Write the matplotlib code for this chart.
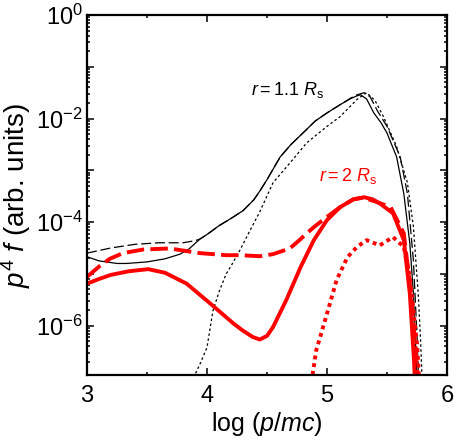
import matplotlib
matplotlib.use("Agg")
import matplotlib.pyplot as plt
import numpy as np
from matplotlib.ticker import LogLocator, FixedLocator, MultipleLocator, FuncFormatter, NullFormatter

plt.rcParams["font.family"] = ["Liberation Sans", "DejaVu Sans"]
plt.rcParams["mathtext.fontset"] = "custom"
plt.rcParams["mathtext.rm"] = "Liberation Sans"
plt.rcParams["mathtext.it"] = "Liberation Sans:italic"

# log10(p/mc) and log10(p^4 f)
x_black_solid = [3.0, 3.1, 3.25, 3.33, 3.5, 3.65, 3.775, 3.85, 3.94, 4.0, 4.1, 4.2, 4.3, 4.39, 4.44,
                 4.5, 4.61, 4.7, 4.83, 4.9, 5.0, 5.11, 5.2, 5.25, 5.28, 5.33, 5.39, 5.45, 5.5, 5.58,
                 5.64, 5.69, 5.72, 5.74, 5.76]
y_black_solid = [-4.67, -4.75, -4.80, -4.80, -4.77, -4.71, -4.62, -4.52, -4.33, -4.24, -4.07, -3.93,
                 -3.78, -3.57, -3.40, -3.18, -2.74, -2.50, -2.21, -2.05, -1.89, -1.73, -1.61, -1.56,
                 -1.54, -1.62, -1.89, -2.08, -2.28, -2.74, -3.45, -4.41, -5.38, -6.5, -7.5]

x_black_dashed = [3.0, 3.2, 3.4, 3.6, 3.8, 3.9, 3.94, 4.0, 4.1, 4.2, 4.3, 4.39, 4.44, 4.5, 4.61,
                  4.7, 4.83, 4.9, 5.0, 5.11, 5.2, 5.25, 5.31, 5.36, 5.42, 5.5, 5.61, 5.67, 5.72,
                  5.75, 5.77]
y_black_dashed = [-4.60, -4.50, -4.43, -4.40, -4.40, -4.36, -4.33, -4.24, -4.07, -3.93, -3.78, -3.57,
                  -3.40, -3.18, -2.74, -2.50, -2.21, -2.05, -1.89, -1.73, -1.60, -1.54, -1.50, -1.58,
                  -1.85, -2.15, -2.74, -3.45, -4.74, -6.2, -7.5]

x_black_dotted = [3.87, 3.95, 4.0, 4.05, 4.1, 4.16, 4.2, 4.275, 4.35, 4.44, 4.55, 4.69, 4.83, 5.0,
                  5.11, 5.25, 5.33, 5.4, 5.47, 5.58, 5.67, 5.72, 5.76, 5.78, 5.80]
y_black_dotted = [-7.1, -6.7, -6.42, -5.71, -5.35, -5.00, -4.85, -4.54, -4.20, -3.80, -3.24, -2.86,
                  -2.47, -2.15, -1.96, -1.63, -1.50, -1.65, -1.96, -2.54, -3.24, -4.09, -5.38,
                  -6.3, -7.5]

x_red_solid = [3.0, 3.1, 3.2, 3.35, 3.51, 3.65, 3.83, 4.03, 4.22, 4.3, 4.38, 4.44, 4.5, 4.55,
               4.66, 4.78, 4.89, 5.0, 5.11, 5.22, 5.31, 5.38, 5.44, 5.55, 5.64, 5.69, 5.725, 5.74]
y_red_solid = [-5.19, -5.10, -5.02, -4.95, -4.91, -4.98, -5.19, -5.58, -5.96, -6.10, -6.22, -6.27,
               -6.20, -6.03, -5.51, -4.87, -4.35, -3.96, -3.71, -3.56, -3.52, -3.56, -3.64, -3.83,
               -4.35, -5.38, -6.68, -7.5]

x_red_dashed = [3.0, 3.1, 3.19, 3.3, 3.47, 3.69, 3.8, 3.94, 4.16, 4.275, 4.44, 4.55, 4.69, 4.76,
                4.83, 4.9, 5.0, 5.11, 5.22, 5.3, 5.4, 5.53, 5.64, 5.7, 5.75, 5.77]
y_red_dashed = [-5.06, -4.86, -4.71, -4.60, -4.53, -4.51, -4.55, -4.60, -4.64, -4.64, -4.66, -4.62,
                -4.51, -4.37, -4.22, -4.08, -3.90, -3.71, -3.56, -3.53, -3.60, -3.71, -4.22, -5.38,
                -6.8, -7.5]

x_red_dotted = [4.87, 4.91, 5.0, 5.08, 5.17, 5.25, 5.33, 5.44, 5.55, 5.64, 5.69, 5.75, 5.78]
y_red_dotted = [-7.1, -6.48, -5.77, -5.12, -4.68, -4.48, -4.35, -4.45, -4.29, -4.48, -5.06, -6.35,
                -7.5]

labels = ["$r = 1.1\\ R_{\\rm s}$", "$r = 2\\ R_{\\rm s}$"]


def lin(v):
    return 10.0 ** np.asarray(v)


fig = plt.figure(figsize=(4.58, 4.45), dpi=100)
ax = fig.add_axes([0.19, 0.157, 0.786, 0.809])

ax.plot(x_black_solid, lin(y_black_solid), color="black", lw=0.9)
ax.plot(x_black_dashed, lin(y_black_dashed), color="black", lw=0.9, dashes=(8, 3))
ax.plot(x_black_dotted, lin(y_black_dotted), color="black", lw=0.9, dashes=(2, 2))
ax.plot(x_red_solid, lin(y_red_solid), color="#ff0000", lw=2.8)
ax.plot(x_red_dashed, lin(y_red_dashed), color="#ff0000", lw=2.8, dashes=(4.5, 1.6))
ax.plot(x_red_dotted, lin(y_red_dotted), color="#ff0000", lw=2.8, dashes=(1, 1))

ax.set_yscale("log")
ax.set_xlim(3, 6)
ax.set_ylim(1.1e-7, 1)

ax.xaxis.set_major_locator(FixedLocator([3, 4, 5, 6]))
ax.xaxis.set_minor_locator(MultipleLocator(0.5))
ax.yaxis.set_major_locator(LogLocator(base=10, numticks=20))
ax.yaxis.set_minor_locator(LogLocator(base=10, subs=np.arange(2, 10), numticks=20))
ax.yaxis.set_minor_formatter(NullFormatter())


def fmt(v, pos):
    e = int(round(np.log10(v)))
    if e % 2:
        return ""
    return "$10^{%d}$" % e


ax.yaxis.set_major_formatter(FuncFormatter(fmt))
ax.tick_params(which="both", direction="in", top=True, right=True, labelsize=17, width=1.1)
ax.tick_params(which="major", length=5)
ax.tick_params(axis="x", which="major", pad=7)
ax.tick_params(axis="y", which="major", pad=3)
ax.tick_params(which="minor", length=2.5)
for s in ax.spines.values():
    s.set_linewidth(1.6)

ax.set_xlabel("log ($p$/$mc$)", fontsize=18, labelpad=2)
ax.set_ylabel("$p^4\\ f\\ $(arb. units)", fontsize=20, labelpad=2)

ax.text(4.67, 10 ** -1.45, labels[0], fontsize=13, color="black", ha="center", va="center")
ax.text(5.18, 10 ** -3.1, labels[1], fontsize=13, color="#ff0000", ha="center", va="center")

fig.savefig("out.png", dpi=100)
